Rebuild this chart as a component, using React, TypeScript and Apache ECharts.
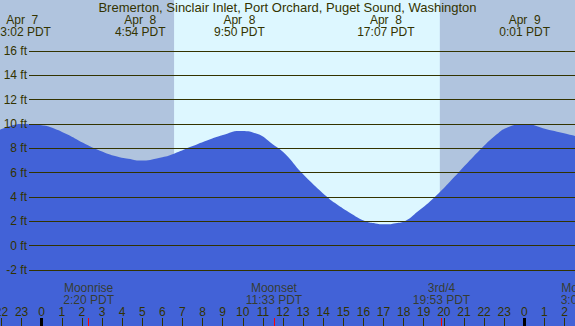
import React, { useEffect, useRef } from "react";
import * as echarts from "echarts";

const TITLE = "Bremerton, Sinclair Inlet, Port Orchard, Puget Sound, Washington";

const TIDE_HOURS = [-2.074, -1.577, -0.967, -0.582, 0, 0.413, 1.258, 2.054, 2.899, 3.745, 4.54, 4.9, 5.883, 6.58, 7.375, 8.22, 9.016, 9.833, 10.707, 11.503, 12.1, 12.93, 14.2, 14.59, 15.42, 16.1, 16.6, 17.117, 17.6, 18.1, 18.7, 19.55, 20.72, 21.88, 22.63, 23.13, 24.017, 25.11, 26.522];
const TIDE_FEET = [9.52, 9.83, 10.0, 9.98, 9.9, 9.75, 9.15, 8.45, 7.8, 7.32, 7.07, 7.0, 7.23, 7.56, 8.1, 8.65, 9.09, 9.43, 9.2, 8.32, 7.56, 6.0, 4.0, 3.5, 2.6, 2.0, 1.83, 1.75, 1.84, 2.05, 2.8, 4.0, 6.0, 8.0, 9.15, 9.7, 10.0, 9.57, 9.02];

const TIDE_EVENT_HOURS = [-0.967, 4.9, 9.833, 17.117, 24.017];
const TIDE_EVENT_LABELS = ["Apr  7\n23:02 PDT", "Apr  8\n4:54 PDT", "Apr  8\n9:50 PDT", "Apr  8\n17:07 PDT", "Apr  9\n0:01 PDT"];

const MOON_EVENT_HOURS = [2.333, 11.55, 19.883, 27.07];
const MOON_EVENT_LABELS = ["Moonrise\n2:20 PDT", "Moonset\n11:33 PDT", "3rd/4\n19:53 PDT", "Moonrise\n3:04 PDT"];

const HOUR_TICKS = [-2, -1, 0, 1, 2, 3, 4, 5, 6, 7, 8, 9, 10, 11, 12, 13, 14, 15, 16, 17, 18, 19, 20, 21, 22, 23, 24, 25, 26];
const MIDNIGHT_HOURS = [0, 24];

const SUNRISE = 6.583;
const SUNSET = 19.8;

const Y_TICK_MIN = -2;
const Y_TICK_MAX = 16;
const Y_TICK_STEP = 2;

// view range
const X_MIN = -2.074;
const X_MAX = 26.522;
const Y_MIN = -6.603;
const Y_MAX = 20.192;
const MOON_LABEL_FT = -3.94;

const TEXT = "#333300";
const FONT = "Liberation Sans";
const NIGHT = "#b0c4de";
const DAY = "#ddf7ff";
const WATER = "#4262d7";

export default function App() {
  const ref = useRef<HTMLDivElement>(null);
  useEffect(() => {
    const chart = echarts.init(ref.current!, null, { renderer: "svg" });
    const findLabel = (hours: number[], labels: string[], v: number) => {
      let best = 0;
      for (let i = 0; i < hours.length; i++) {
        if (Math.abs(hours[i] - v) < Math.abs(hours[best] - v)) best = i;
      }
      return labels[best];
    };
    const baseX = {
      type: "value" as const,
      gridIndex: 0,
      min: X_MIN,
      max: X_MAX,
      axisLine: { show: false, onZero: false },
      splitLine: { show: false },
    };
    chart.setOption({
      animation: false,
      backgroundColor: DAY,
      title: {
        text: TITLE,
        left: "center",
        top: 1,
        padding: 0,
        textStyle: { fontSize: 13, fontWeight: "normal", color: TEXT, fontFamily: FONT, lineHeight: 13 },
      },
      grid: [
        { left: 0, right: 0, top: 0, bottom: 0, containLabel: false, outerBoundsMode: "none" },
        { left: 29, right: 0, top: 51, bottom: 56, containLabel: false, outerBoundsMode: "none" },
      ],
      xAxis: [
        {
          ...baseX,
          position: "bottom",
          z: 5,
          axisTick: { show: true, inside: true, length: 8, customValues: HOUR_TICKS, lineStyle: { color: TEXT, width: 1 } },
          axisLabel: {
            show: true,
            inside: true,
            margin: 8,
            customValues: HOUR_TICKS,
            formatter: (v: number) => String(((Math.round(v) % 24) + 24) % 24),
            color: TEXT,
            fontSize: 12,
            lineHeight: 12,
            fontFamily: FONT,
          },
        },
        {
          ...baseX,
          position: "bottom",
          z: 6,
          axisTick: { show: true, inside: true, length: 8, customValues: MIDNIGHT_HOURS, lineStyle: { color: "#000000", width: 3 } },
          axisLabel: { show: false },
        },
        {
          ...baseX,
          position: "bottom",
          z: 6,
          axisTick: { show: true, inside: true, length: 8, customValues: MOON_EVENT_HOURS, lineStyle: { color: "#ff0000", width: 1 } },
          axisLabel: { show: false },
        },
        {
          ...baseX,
          position: "top",
          z: 6,
          axisTick: { show: false },
          axisLabel: {
            show: true,
            inside: true,
            margin: 14,
            customValues: TIDE_EVENT_HOURS,
            formatter: (v: number) => findLabel(TIDE_EVENT_HOURS, TIDE_EVENT_LABELS, v),
            color: TEXT,
            fontSize: 12,
            lineHeight: 12,
            fontFamily: FONT,
          },
        },
        { type: "value", gridIndex: 1, min: 0, max: 1, show: false, axisLine: { onZero: false } },
      ],
      yAxis: [
        { type: "value", gridIndex: 0, min: Y_MIN, max: Y_MAX, show: false, axisLine: { onZero: false } },
        {
          type: "value",
          gridIndex: 1,
          min: Y_TICK_MIN,
          max: Y_TICK_MAX,
          interval: Y_TICK_STEP,
          z: 5,
          axisLine: { show: false, onZero: false },
          axisTick: { show: false },
          splitLine: { show: true, lineStyle: { color: TEXT, width: 1 } },
          axisLabel: { formatter: "{value} ft", margin: 2, fontSize: 12, color: TEXT, fontFamily: FONT },
        },
      ],
      series: [
        {
          type: "line",
          xAxisIndex: 0,
          yAxisIndex: 0,
          data: TIDE_HOURS.map((h, i) => [h, TIDE_FEET[i]]),
          smooth: 0.5,
          symbol: "none",
          lineStyle: { width: 0, color: WATER },
          areaStyle: { color: WATER, opacity: 1, origin: "start" },
          z: 2,
          silent: true,
          markArea: {
            silent: true,
            itemStyle: { color: NIGHT, opacity: 1 },
            data: [
              [{ xAxis: X_MIN }, { xAxis: SUNRISE }],
              [{ xAxis: SUNSET }, { xAxis: X_MAX }],
            ],
          },
        },
        {
          type: "scatter",
          xAxisIndex: 0,
          yAxisIndex: 0,
          clip: false,
          z: 7,
          silent: true,
          symbolSize: 1,
          itemStyle: { color: "rgba(0,0,0,0)" },
          data: MOON_EVENT_HOURS.map((h) => [h, MOON_LABEL_FT]),
          label: {
            show: true,
            position: "inside",
            formatter: (p: any) => MOON_EVENT_LABELS[p.dataIndex],
            color: TEXT,
            fontSize: 12,
            lineHeight: 12,
            fontFamily: FONT,
          },
        },
      ],
    });
    return () => chart.dispose();
  }, []);
  return <div ref={ref} style={{ position: "fixed", left: 0, top: 0, width: 575, height: 326 }} />;
}
